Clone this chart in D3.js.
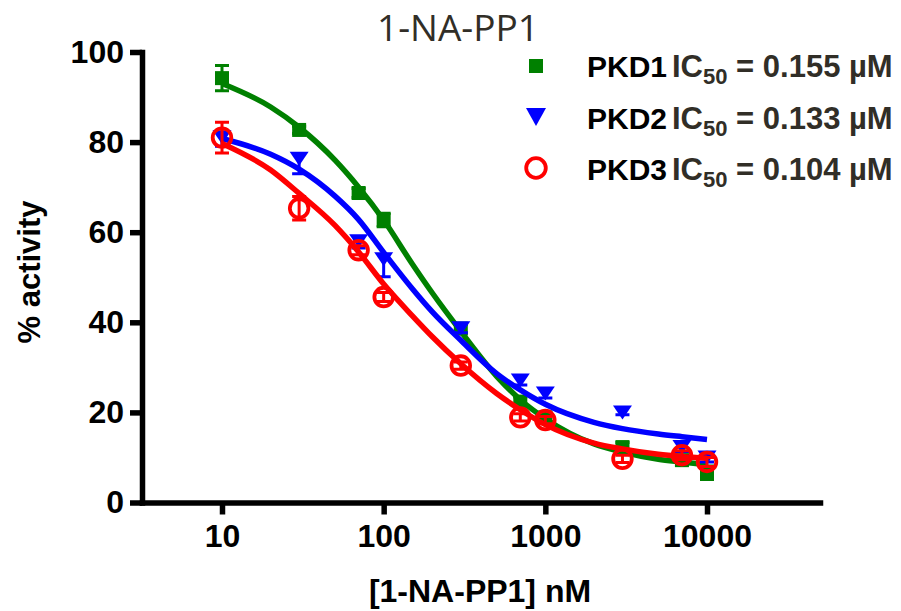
<!DOCTYPE html>
<html>
<head>
<meta charset="utf-8">
<script src="https://cdn.jsdelivr.net/npm/d3@7"></script>
<style>
    html, body { margin: 0; padding: 0; background: #fff; }
    #chart { width: 901px; height: 611px; }
</style>
</head>
<body>
<div id="chart"></div>
<script>
// 1-NA-PP1 dose response chart

// measured points
const concentrations = [10, 30, 70, 100, 300, 700, 1000, 3000, 7000, 10000];
const pkd1Values = [94.2, 82.7, 68.7, 62.7, 38.6, 22.4, 18.9, 12.3, 9.4, 6.6];
const pkd2Values = [81.1, 76.3, 58.0, 54.0, 38.7, 27.1, 24.2, 20.0, 12.3, 10.0];
const pkd3Values = [81.0, 65.3, 56.0, 45.6, 30.4, 18.9, 18.3, 9.7, 10.5, 9.0];
const pkd1Errors = [2.8, 0.8, 1.0, 1.5, 1.0, 1.0, 1.0, 1.0, 1.0, 1.5];
const pkd2Errors = [2.0, 3.3, 1.5, 3.9, 1.0, 1.0, 1.0, 0.5, 1.0, 1.0];
const pkd3Errors = [3.4, 2.6, 1.0, 1.0, 0.8, 0.8, 0.8, 0.8, 1.0, 1.0];

// fitted curves
const fitConcentrations = [10, 20, 30, 50, 70, 100, 150, 200, 300, 500, 700, 1000, 2000, 3000, 5000, 7000, 10000];
const pkd1Fit = [93.0, 87.8, 83.3, 76.0, 70.0, 62.7, 53.0, 46.5, 38.0, 28.0, 22.8, 18.6, 13.0, 11.2, 9.6, 9.0, 8.4];
const pkd2Fit = [80.8, 77.3, 74.0, 68.0, 62.8, 55.5, 47.5, 42.3, 36.0, 28.6, 25.0, 21.8, 17.8, 16.4, 15.2, 14.6, 14.0];
const pkd3Fit = [79.7, 73.8, 68.6, 61.5, 55.6, 48.5, 41.5, 36.8, 30.8, 24.2, 20.6, 17.3, 13.2, 11.9, 10.7, 10.2, 9.8];

const seriesNames = ['PKD1', 'PKD2', 'PKD3'];
const ic50Labels = ['0.155 µM', '0.133 µM', '0.104 µM'];
const xTickValues = [10, 100, 1000, 10000];
const yTickValues = [0, 20, 40, 60, 80, 100];

const ChartModule = (() => {
    const width = 901;
    const height = 611;
    const textColor = '#312e27';
    const boldFont = '"Liberation Sans", Arial, sans-serif';

    // errorMode: 'both' = 上下, 'below' = 下のみ
    const series = [
        { name: seriesNames[0], values: pkd1Values, errors: pkd1Errors, fit: pkd1Fit, ic50: ic50Labels[0], color: '#008000', symbol: 'square', errorMode: 'both' },
        { name: seriesNames[1], values: pkd2Values, errors: pkd2Errors, fit: pkd2Fit, ic50: ic50Labels[1], color: '#0000ff', symbol: 'triangle', errorMode: 'below' },
        { name: seriesNames[2], values: pkd3Values, errors: pkd3Errors, fit: pkd3Fit, ic50: ic50Labels[2], color: '#ff0000', symbol: 'circle', errorMode: 'both' }
    ];

    const x = d3.scaleLog().domain([3.2, 50000]).range([142, 820]);
    const y = d3.scaleLinear().domain([0, 100]).range([502.5, 52]);

    // シンボル描画
    function drawSymbol(g, symbol, color, cx, cy, big) {
        if (symbol === 'square') {
            g.append('rect')
                .attr('x', cx - 7).attr('y', cy - 7)
                .attr('width', 14).attr('height', 14)
                .attr('fill', color);
        } else if (symbol === 'triangle') {
            const hw = big ? 10 : 9.5;
            const hh = big ? 9 : 7;
            g.append('path')
                .attr('d', `M${cx - hw},${cy - hh}L${cx + hw},${cy - hh}L${cx},${cy + hh}Z`)
                .attr('fill', color);
        } else {
            g.append('circle')
                .attr('cx', cx).attr('cy', cy).attr('r', big ? 9.8 : 9.3)
                .attr('fill', 'none')
                .attr('stroke', color)
                .attr('stroke-width', 3.8);
        }
    }

    function render() {
        const svg = d3.select('#chart')
            .append('svg')
            .attr('width', width)
            .attr('height', height);

        // タイトル
        svg.append('text')
            .attr('x', 458).attr('y', 41)
            .attr('text-anchor', 'middle')
            .attr('font-family', '"Open Sans", sans-serif')
            .attr('font-size', 37)
            .attr('fill', textColor)
            .text('1-NA-PP1');

        // 系列
        const lineGen = d3.line()
            .x(d => x(d[0]))
            .y(d => y(d[1]))
            .curve(d3.curveMonotoneX);

        series.forEach(s => {
            const g = svg.append('g').attr('class', 'series');

            g.append('path')
                .datum(fitConcentrations.map((c, i) => [c, s.fit[i]]))
                .attr('d', lineGen)
                .attr('fill', 'none')
                .attr('stroke', s.color)
                .attr('stroke-width', 5.5);

            concentrations.forEach((c, i) => {
                const cx = x(c);
                const cy = y(s.values[i]);
                const bottom = y(s.values[i] - s.errors[i]);
                const top = s.errorMode === 'both' ? y(s.values[i] + s.errors[i]) : cy;
                let d = `M${cx},${top}V${bottom}M${cx - 7},${bottom}H${cx + 7}`;
                if (s.errorMode === 'both') d += `M${cx - 7},${top}H${cx + 7}`;
                g.append('path')
                    .attr('d', d)
                    .attr('stroke', s.color)
                    .attr('stroke-width', 3)
                    .attr('fill', 'none');
                drawSymbol(g, s.symbol, s.color, cx, cy, false);
            });
        });

        // 軸
        const yAxis = d3.axisLeft(y)
            .tickValues(yTickValues)
            .tickSize(12)
            .tickSizeOuter(0)
            .tickPadding(6);
        const xAxis = d3.axisBottom(x)
            .tickValues(xTickValues)
            .tickFormat(d3.format('d'))
            .tickSize(12)
            .tickSizeOuter(0)
            .tickPadding(10);

        const yG = svg.append('g')
            .attr('transform', `translate(${x.range()[0]},0)`)
            .call(yAxis);
        const xG = svg.append('g')
            .attr('transform', `translate(0,${y(0)})`)
            .call(xAxis);

        [yG, xG].forEach(axisG => {
            axisG.select('.domain').attr('stroke-width', 5.5).attr('stroke-linecap', 'square');
            axisG.selectAll('.tick line').attr('stroke-width', 5.5);
            axisG.selectAll('.tick text')
                .attr('font-family', boldFont)
                .attr('font-weight', 'bold')
                .attr('font-size', 32)
                .attr('fill', '#000');
        });

        // 軸タイトル
        svg.append('text')
            .attr('transform', 'translate(40,272) rotate(-90)')
            .attr('text-anchor', 'middle')
            .attr('font-family', boldFont)
            .attr('font-weight', 'bold')
            .attr('font-size', 31)
            .text('% activity');

        svg.append('text')
            .attr('x', 480).attr('y', 602)
            .attr('text-anchor', 'middle')
            .attr('font-family', boldFont)
            .attr('font-weight', 'bold')
            .attr('font-size', 32)
            .text('[1-NA-PP1] nM');

        // 凡例
        const legend = svg.append('g').attr('class', 'legend');
        series.forEach((s, i) => {
            const cy = 66 + i * 51;
            const baseline = 77 + i * 51.5;
            drawSymbol(legend, s.symbol, s.color, 536, cy, true);

            legend.append('text')
                .attr('x', 587).attr('y', baseline)
                .attr('font-family', boldFont)
                .attr('font-weight', 'bold')
                .attr('font-size', 30)
                .attr('fill', '#000')
                .text(s.name);

            const ic = legend.append('text')
                .attr('x', 672).attr('y', baseline)
                .attr('font-family', boldFont)
                .attr('font-weight', 'bold')
                .attr('font-size', 31)
                .attr('fill', textColor);
            ic.append('tspan').text('IC');
            ic.append('tspan').attr('font-size', 22).attr('dy', 7).text('50');
            ic.append('tspan').attr('dy', -7).text(` = ${s.ic50}`);
        });
    }

    return { render };
})();

ChartModule.render();
</script>
</body>
</html>
